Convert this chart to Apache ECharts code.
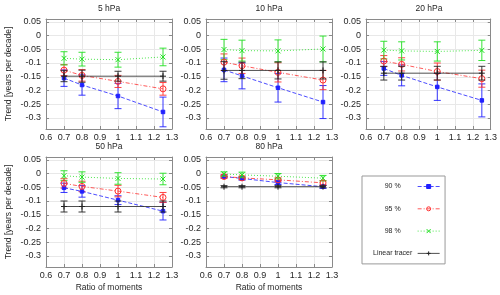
<!DOCTYPE html>
<html><head><meta charset="utf-8">
<script src="https://cdn.jsdelivr.net/npm/echarts@6/dist/echarts.min.js"></script>
<style>html,body{margin:0;padding:0;background:#fff}#c{width:500px;height:295px}</style>
</head><body><div id="c"></div>
<script>
const ratios = [0.7, 0.8, 1.0, 1.25];
const levels = ['5 hPa', '10 hPa', '20 hPa', '50 hPa', '80 hPa'];
const yTicks = [-0.3, -0.25, -0.2, -0.15, -0.1, -0.05, 0, 0.05];
const seriesNames = ['90 %', '95 %', '98 %', 'Linear tracer'];

const trend90 = [
  [-0.155, -0.180, -0.220, -0.278],
  [-0.125, -0.147, -0.190, -0.242],
  [-0.120, -0.145, -0.187, -0.236],
  [-0.052, -0.065, -0.097, -0.137],
  [-0.011, -0.018, -0.033, -0.048]
];
const err90 = [
  [0.030, 0.037, 0.046, 0.054],
  [0.043, 0.047, 0.052, 0.060],
  [0.025, 0.038, 0.049, 0.060],
  [0.017, 0.021, 0.016, 0.032],
  [0.005, 0.006, 0.007, 0.006]
];
const trend95 = [
  [-0.126, -0.145, -0.167, -0.194],
  [-0.097, -0.110, -0.134, -0.162],
  [-0.093, -0.105, -0.131, -0.157],
  [-0.036, -0.047, -0.064, -0.087],
  [-0.011, -0.016, -0.023, -0.034]
];
const err95 = [
  [0.020, 0.021, 0.022, 0.023],
  [0.030, 0.028, 0.035, 0.035],
  [0.020, 0.024, 0.031, 0.031],
  [0.017, 0.019, 0.021, 0.018],
  [0.006, 0.006, 0.007, 0.008]
];
const trend98 = [
  [-0.083, -0.086, -0.088, -0.078],
  [-0.051, -0.055, -0.056, -0.049],
  [-0.053, -0.056, -0.058, -0.054],
  [-0.008, -0.013, -0.018, -0.020],
  [-0.002, -0.005, -0.010, -0.017]
];
const err98 = [
  [0.024, 0.025, 0.027, 0.032],
  [0.037, 0.038, 0.040, 0.047],
  [0.032, 0.033, 0.035, 0.037],
  [0.018, 0.019, 0.021, 0.021],
  [0.008, 0.010, 0.010, 0.010]
];
const trendLin = [
  [-0.148, -0.148, -0.148, -0.148],
  [-0.127, -0.127, -0.127, -0.127],
  [-0.137, -0.137, -0.137, -0.137],
  [-0.120, -0.120, -0.120, -0.120],
  [-0.048, -0.048, -0.048, -0.048]
];
const errLin = [
  [0.020, 0.022, 0.018, 0.018],
  [0.032, 0.030, 0.031, 0.031],
  [0.025, 0.025, 0.025, 0.025],
  [0.020, 0.020, 0.020, 0.020],
  [0.004, 0.004, 0.004, 0.004]
];

const FONT = 'Liberation Sans, Arial, Helvetica, sans-serif';
const TXT = '#262626';
const AXC = '#8a8a8a';
const GRIDC = '#e8e8e8';

const gridPos = [
  {left: 46, top: 19}, {left: 206, top: 19}, {left: 366, top: 19},
  {left: 46, top: 157}, {left: 206, top: 157}
];
const GW = 126, GH = 110;

const styles = [
  {name: '90 %', color: '#2020ff', dash: [4, 2], symbol: 'rect', size: 3.5, fill: '#2020ff', trend: trend90, err: err90},
  {name: '95 %', color: '#ff3030', dash: [4, 2, 1, 2], symbol: 'circle', size: 6, fill: 'rgba(255,255,255,0)', trend: trend95, err: err95},
  {name: '98 %', color: '#20e020', dash: [1, 2], symbol: 'path://M0,0L10,10M10,0L0,10', size: 5, fill: 'rgba(255,255,255,0)', trend: trend98, err: err98},
  {name: 'Linear tracer', color: '#222222', dash: 'solid', symbol: 'path://M5,0L5,10M0,5L10,5', size: 6, fill: 'rgba(255,255,255,0)', trend: trendLin, err: errLin}
];

const grids = [], xAxes = [], yAxes = [], series = [], graphics = [];

levels.forEach((lev, i) => {
  const g = gridPos[i];
  grids.push({left: g.left, top: g.top, width: GW, height: GH, show: false});
  xAxes.push({
    type: 'value', gridIndex: i, min: 0.6, max: 1.3, interval: 0.1, position: 'bottom',
    axisLine: {show: true, onZero: false, lineStyle: {color: AXC, width: 1}},
    axisTick: {show: true, inside: true, length: 3, lineStyle: {color: AXC}},
    axisLabel: {show: true, color: TXT, fontSize: 9, fontFamily: FONT, margin: 4},
    splitLine: {show: true, lineStyle: {color: GRIDC, width: 1}},
    name: (i === 3 || i === 4) ? 'Ratio of moments' : '',
    nameLocation: 'middle', nameGap: 16,
    nameTextStyle: {color: TXT, fontSize: 8.5, fontFamily: FONT}
  });
  xAxes.push({
    type: 'value', gridIndex: i, min: 0.6, max: 1.3, interval: 0.1, position: 'top',
    axisLine: {show: true, onZero: false, lineStyle: {color: AXC, width: 1}},
    axisTick: {show: true, inside: true, length: 3, lineStyle: {color: AXC}},
    axisLabel: {show: false}, splitLine: {show: false}
  });
  yAxes.push({
    type: 'value', gridIndex: i, min: -0.34, max: 0.06, position: 'left',
    axisLine: {show: true, onZero: false, lineStyle: {color: AXC, width: 1}},
    axisTick: {show: true, inside: true, length: 3, lineStyle: {color: AXC}, customValues: yTicks},
    axisLabel: {show: true, color: TXT, fontSize: 9, fontFamily: FONT, margin: 5, customValues: yTicks,
      formatter: v => String(Math.round(v * 100) / 100)},
    splitLine: {show: true, lineStyle: {color: GRIDC, width: 1}},
    name: (i === 0 || i === 3) ? 'Trend [years per decade]' : '',
    nameLocation: 'middle', nameGap: 33, nameRotate: 90,
    nameTextStyle: {color: TXT, fontSize: 8.5, fontFamily: FONT}
  });
  yAxes.push({
    type: 'value', gridIndex: i, min: -0.34, max: 0.06, position: 'right',
    axisLine: {show: true, onZero: false, lineStyle: {color: AXC, width: 1}},
    axisTick: {show: true, inside: true, length: 3, lineStyle: {color: AXC}, customValues: yTicks},
    axisLabel: {show: false}, splitLine: {show: false}
  });
  graphics.push({
    type: 'text', x: g.left + GW / 2, y: g.top - 10,
    style: {text: lev, align: 'center', verticalAlign: 'middle', fill: TXT, font: '8.5px ' + FONT}
  });

  styles.forEach((s, k) => {
    const errData = ratios.map((r, j) => [r, s.trend[i][j], s.err[i][j]]);
    series.push({
      type: 'custom', name: 'err_' + k + '_' + i,
      xAxisIndex: 2 * i, yAxisIndex: 2 * i, z: 2 + k,
      data: errData,
      renderItem: (params, api) => {
        const x = api.value(0), y = api.value(1), e = api.value(2);
        const t = api.coord([x, y + e]);
        const b = api.coord([x, y - e]);
        const hw = 3.5;
        const st = {stroke: s.color, lineWidth: 0.9};
        return {type: 'group', children: [
          {type: 'line', shape: {x1: t[0], y1: t[1], x2: b[0], y2: b[1]}, style: st},
          {type: 'line', shape: {x1: t[0] - hw, y1: t[1], x2: t[0] + hw, y2: t[1]}, style: st},
          {type: 'line', shape: {x1: b[0] - hw, y1: b[1], x2: b[0] + hw, y2: b[1]}, style: st}
        ]};
      },
      silent: true
    });
    series.push({
      type: 'line', name: s.name, xAxisIndex: 2 * i, yAxisIndex: 2 * i, z: 3 + k,
      data: ratios.map((r, j) => [r, s.trend[i][j]]),
      symbol: s.symbol, symbolSize: s.size, showSymbol: true,
      lineStyle: {color: s.color, width: 0.8, type: s.dash},
      itemStyle: {color: s.fill, borderColor: s.color, borderWidth: 1},
      animation: false, silent: true
    });
  });
});

const legendData = seriesNames.map((n, k) => ({
  name: n,
  itemStyle: {color: styles[k].fill, borderColor: styles[k].color, borderWidth: 1},
  lineStyle: {color: styles[k].color, width: 0.8, type: styles[k].dash}
}));

const chart = echarts.init(document.getElementById('c'), null, {renderer: 'canvas'});
chart.setOption({
  animation: false,
  backgroundColor: '#ffffff',
  grid: grids, xAxis: xAxes, yAxis: yAxes, series: series,
  graphic: graphics,
  legend: {
    orient: 'vertical', left: 362, top: 176, align: 'right',
    padding: [7, 5, 7, 11], itemGap: 15.3, itemWidth: 22, itemHeight: 5,
    borderColor: '#999999', borderWidth: 1, selectedMode: false,
    formatter: name => '{c|' + name + '}',
    textStyle: {fontSize: 7, color: TXT, fontFamily: FONT,
      rich: {c: {width: 40, align: 'center', fontSize: 7, color: TXT, fontFamily: FONT}}},
    data: legendData
  }
});
</script></body></html>
